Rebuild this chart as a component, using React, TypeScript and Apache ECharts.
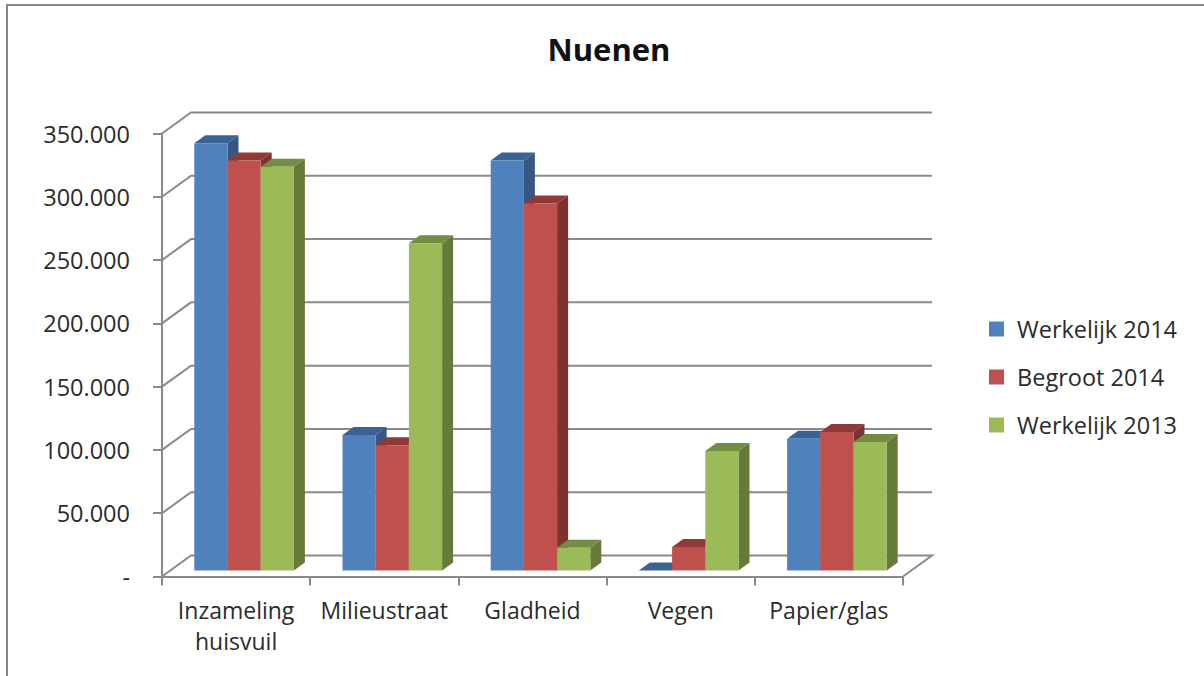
import React, { useEffect, useRef } from "react";
import * as echarts from "echarts";

const title = "Nuenen";
const categories = ["Inzameling\nhuisvuil", "Milieustraat", "Gladheid", "Vegen", "Papier/glas"];
const werkelijk2014 = [337500, 107000, 324000, 0, 104000];
const begroot2014 = [324000, 99000, 290000, 18500, 109500];
const werkelijk2013 = [319000, 258500, 18000, 94500, 101500];
const gridTicks = [0, 50000, 100000, 150000, 200000, 250000, 300000, 350000];

const seriesDefs = [
  { name: "Werkelijk 2014", values: werkelijk2014, front: "#4F81BD", top: "#3A6292", side: "#355781" },
  { name: "Begroot 2014", values: begroot2014, front: "#C0504D", top: "#8F3A39", side: "#7C3230" },
  { name: "Werkelijk 2013", values: werkelijk2013, front: "#9BBB59", top: "#748D43", side: "#667A3A" },
];

const AXIS_COLOR = "#8A8A8A";
const TEXT_COLOR = "#2B2B2B";
const FONT = "'Open Sans', sans-serif";
const WALL_DX = 29;
const WALL_DY = -21;
const BAR_DX = 8;
const BAR_DY = -6;
const DEPTH_DX = 11;
const DEPTH_DY = -8;
const BAR_RATIO = 33.2 / 148.2;

function fmt(v: number) {
  if (v === 0) return "-";
  return String(v / 1000) + ".000";
}

function wallItem(params: any, api: any) {
  const v = api.value(1);
  const p = api.coord([0, v]);
  const band = api.size([1, 0])[0];
  const x0 = p[0] - band / 2;
  const x1 = x0 + band * categories.length;
  const y = p[1];
  const points: number[][] = [];
  if (v === 0) {
    points.push([x0, y], [x0 + WALL_DX, y + WALL_DY], [x1 + WALL_DX, y + WALL_DY], [x1, y]);
  } else {
    points.push([x0, y], [x0 + WALL_DX, y + WALL_DY], [x1 + WALL_DX, y + WALL_DY]);
  }
  return {
    type: "polyline",
    shape: { points },
    style: { stroke: AXIS_COLOR, lineWidth: 2, fill: "none" },
  };
}

function barRenderer(seriesIndex: number) {
  const def = seriesDefs[seriesIndex];
  return (params: any, api: any) => {
    const cat = api.value(0);
    const val = api.value(1);
    const topPt = api.coord([cat, val]);
    const basePt = api.coord([cat, 0]);
    const band = api.size([1, 0])[0];
    const w = band * BAR_RATIO;
    const xl = topPt[0] + BAR_DX + (seriesIndex - 1.5) * w;
    const xr = xl + w;
    const yt = topPt[1] + BAR_DY;
    const yb = basePt[1] + BAR_DY;
    return {
      type: "group",
      children: [
        {
          type: "polygon",
          shape: { points: [[xr, yt], [xr + DEPTH_DX, yt + DEPTH_DY], [xr + DEPTH_DX, yb + DEPTH_DY], [xr, yb]] },
          style: { fill: def.side },
        },
        {
          type: "polygon",
          shape: { points: [[xl, yt], [xl + DEPTH_DX, yt + DEPTH_DY], [xr + DEPTH_DX, yt + DEPTH_DY], [xr, yt]] },
          style: { fill: def.top },
        },
        {
          type: "rect",
          shape: { x: xl, y: yt, width: w, height: yb - yt },
          style: { fill: def.front },
        },
      ],
    };
  };
}

export default function App() {
  const ref = useRef<HTMLDivElement>(null);
  useEffect(() => {
    document.body.style.margin = "0";
    const chart = echarts.init(ref.current!, null, { renderer: "svg" });
    chart.setOption({
      animation: false,
      backgroundColor: "#FFFFFF",
      title: {
        text: title,
        left: 604,
        top: 28,
        textAlign: "center",
        textStyle: { fontFamily: FONT, fontWeight: "bold", fontSize: 31, color: "#111111" },
      },
      legend: {
        orient: "vertical",
        left: 984,
        top: 312,
        itemWidth: 15,
        itemHeight: 15,
        itemGap: 24,
        icon: "rect",
        data: seriesDefs.map((d) => d.name),
        textStyle: { fontFamily: FONT, fontSize: 23.5, color: TEXT_COLOR, padding: [0, 0, 0, 8], lineHeight: 24 },
      },
      grid: { left: 162, top: 133.5, width: 741, height: 443 },
      xAxis: {
        type: "category",
        data: categories,
        axisLine: { lineStyle: { color: AXIS_COLOR, width: 2 } },
        axisTick: { show: true, length: 9, lineStyle: { color: AXIS_COLOR, width: 2 } },
        axisLabel: {
          interval: 0,
          margin: 18,
          fontFamily: FONT,
          fontSize: 23,
          lineHeight: 31,
          color: TEXT_COLOR,
        },
      },
      yAxis: {
        type: "value",
        min: 0,
        max: 350000,
        interval: 50000,
        splitLine: { show: false },
        axisLine: { show: true, lineStyle: { color: AXIS_COLOR, width: 2 } },
        axisTick: { show: true, length: 9, lineStyle: { color: AXIS_COLOR, width: 2 } },
        axisLabel: {
          margin: 32,
          fontFamily: FONT,
          fontSize: 23.5,
          color: TEXT_COLOR,
          formatter: (v: number) => fmt(v),
        },
      },
      graphic: [
        {
          type: "polyline",
          shape: { points: [[7, 676], [7, 5], [1204, 5]] },
          style: { stroke: "#868686", lineWidth: 2, fill: "none" },
        },
      ],
      series: [
        {
          type: "custom",
          name: "wall",
          silent: true,
          z: 1,
          renderItem: wallItem,
          encode: { x: 0, y: 1 },
          data: gridTicks.map((t) => [0, t]),
        },
        ...seriesDefs.map((d, i) => ({
          type: "custom",
          name: d.name,
          z: 3,
          itemStyle: { color: d.front },
          renderItem: barRenderer(i),
          encode: { x: 0, y: 1 },
          data: d.values.map((v, c) => [c, v]),
        })),
      ],
    });
    return () => chart.dispose();
  }, []);
  return <div ref={ref} style={{ position: "absolute", left: 0, top: 0, width: 1204, height: 676 }} />;
}
